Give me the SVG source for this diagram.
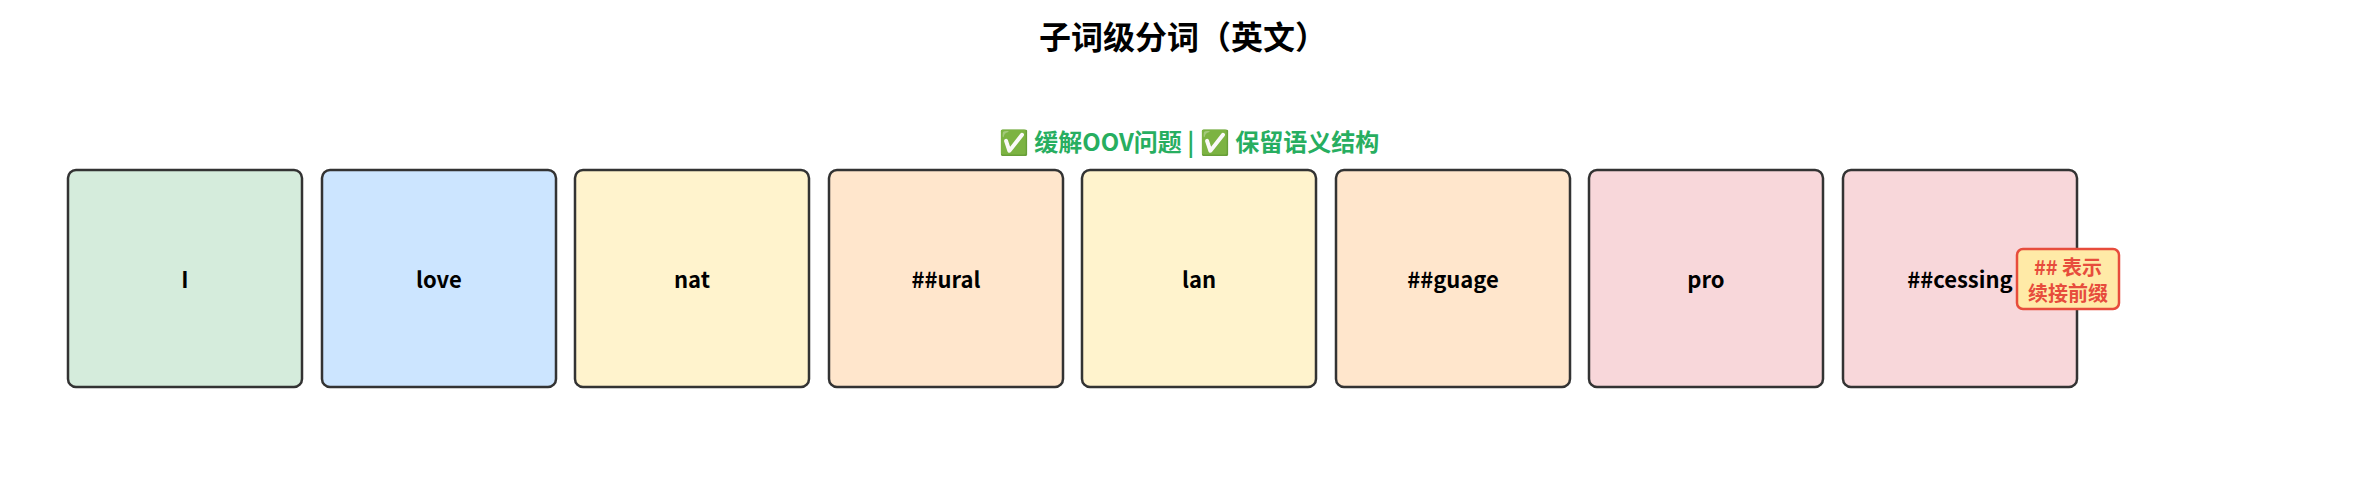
<svg xmlns="http://www.w3.org/2000/svg" width="2379" height="477" viewBox="0 0 2379 477">
<style>
.t{font-family:"Noto Sans CJK SC","Liberation Sans",sans-serif;font-weight:bold;text-anchor:middle;dominant-baseline:central}
.box{stroke:#333;stroke-width:2.5}
.lbl{font-size:22px;fill:#000}
</style>
<rect width="2379" height="477" fill="#fff"/>
<text class="t" x="1183" y="35" font-size="32">子词级分词（英文）</text>
<text class="t" x="1189" y="140" font-size="24" fill="#27ae60">✅ 缓解OOV问题 | ✅ 保留语义结构</text>
<g id="n1"><rect class="box" x="68" y="170" width="234" height="217" rx="8" fill="#d5ecdc"/><text class="t lbl" x="185" y="278">I</text></g>
<g id="n2"><rect class="box" x="322" y="170" width="234" height="217" rx="8" fill="#cce5ff"/><text class="t lbl" x="439" y="278">love</text></g>
<g id="n3"><rect class="box" x="575" y="170" width="234" height="217" rx="8" fill="#fff3cd"/><text class="t lbl" x="692" y="278">nat</text></g>
<g id="n4"><rect class="box" x="829" y="170" width="234" height="217" rx="8" fill="#ffe6cc"/><text class="t lbl" x="946" y="278">##ural</text></g>
<g id="n5"><rect class="box" x="1082" y="170" width="234" height="217" rx="8" fill="#fff3cd"/><text class="t lbl" x="1199" y="278">lan</text></g>
<g id="n6"><rect class="box" x="1336" y="170" width="234" height="217" rx="8" fill="#ffe6cc"/><text class="t lbl" x="1453" y="278">##guage</text></g>
<g id="n7"><rect class="box" x="1589" y="170" width="234" height="217" rx="8" fill="#f8d7da"/><text class="t lbl" x="1706" y="278">pro</text></g>
<g id="n8"><rect class="box" x="1843" y="170" width="234" height="217" rx="8" fill="#f8d7da"/><text class="t lbl" x="1960" y="278">##cessing</text></g>
<g id="badge"><rect x="2017" y="249" width="102" height="60" rx="6" fill="#ffeaa7" stroke="#e74c3c" stroke-width="2.5"/>
<text class="t" x="2068" y="266" font-size="20" fill="#e74c3c">## 表示</text>
<text class="t" x="2068" y="292" font-size="20" fill="#e74c3c">续接前缀</text></g>
<g id="connectors"/>
</svg>
